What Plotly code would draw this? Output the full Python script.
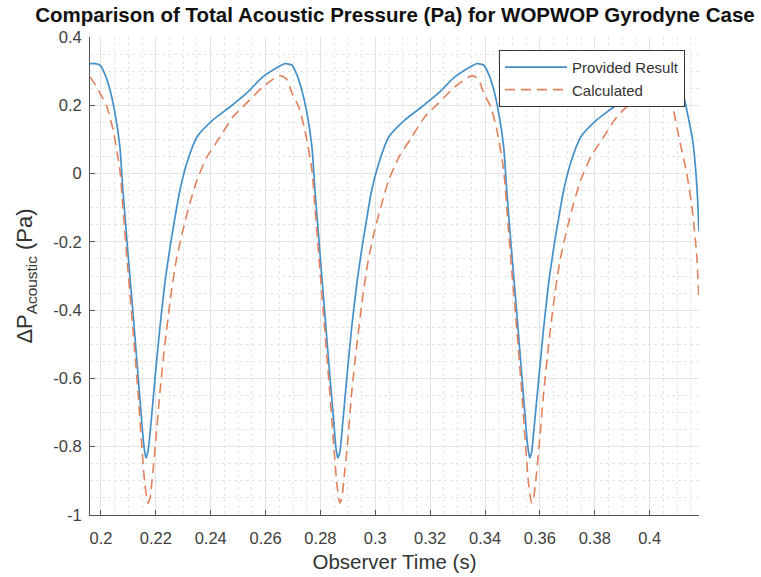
import plotly.graph_objects as go

# Observer time (s) and acoustic pressure (Pa)
t_provided = [0.1960, 0.1978, 0.1996, 0.2015, 0.2033, 0.2051, 0.2069, 0.2080, 0.2098, 0.2117,
              0.2135, 0.2149, 0.2157, 0.2164, 0.2171, 0.2179, 0.2197, 0.2215, 0.2233, 0.2251,
              0.2262, 0.2288, 0.2313, 0.2350, 0.2408, 0.2470, 0.2532, 0.2590, 0.2652, 0.2670,
              0.2689, 0.2696, 0.2714, 0.2732, 0.2751, 0.2769, 0.2780, 0.2798, 0.2816, 0.2834,
              0.2849, 0.2856, 0.2863, 0.2871, 0.2878, 0.2896, 0.2914, 0.2933, 0.2951, 0.2962,
              0.2987, 0.3013, 0.3049, 0.3108, 0.3169, 0.3231, 0.3290, 0.3352, 0.3370,
              0.3388, 0.3395, 0.3414, 0.3432, 0.3450, 0.3468, 0.3479, 0.3497, 0.3516, 0.3534,
              0.3548, 0.3556, 0.3563, 0.3570, 0.3577, 0.3596, 0.3614, 0.3632, 0.3650, 0.3661,
              0.3687, 0.3712, 0.3749, 0.3807, 0.3869, 0.3931, 0.3989, 0.4051, 0.4073,
              0.4091, 0.4109, 0.4128, 0.4142, 0.4157, 0.4168, 0.4175, 0.4180]
p_provided = [0.322, 0.322, 0.318, 0.290, 0.245, 0.177, 0.078, -0.048, -0.230, -0.410,
              -0.590, -0.730, -0.800, -0.833, -0.815, -0.760, -0.600, -0.450, -0.320, -0.220,
              -0.165, -0.048, 0.031, 0.107, 0.157, 0.195, 0.236, 0.283, 0.315, 0.322,
              0.320, 0.318, 0.290, 0.245, 0.177, 0.078, -0.048, -0.230, -0.410, -0.590,
              -0.730, -0.800, -0.833, -0.815, -0.760, -0.600, -0.450, -0.320, -0.220, -0.165,
              -0.048, 0.031, 0.107, 0.157, 0.195, 0.236, 0.283, 0.315, 0.322,
              0.320, 0.318, 0.290, 0.245, 0.177, 0.078, -0.048, -0.230, -0.410, -0.590,
              -0.730, -0.800, -0.833, -0.815, -0.760, -0.600, -0.450, -0.320, -0.220, -0.165,
              -0.048, 0.031, 0.107, 0.157, 0.195, 0.236, 0.283, 0.315, 0.322,
              0.318, 0.280, 0.215, 0.160, 0.098, 0.010, -0.077, -0.170]

t_calculated = [0.1960, 0.1978, 0.1996, 0.2022, 0.2044, 0.2069, 0.2080, 0.2098, 0.2117, 0.2135,
                0.2149, 0.2160, 0.2171, 0.2179, 0.2186, 0.2200, 0.2215, 0.2233, 0.2251, 0.2273,
                0.2299, 0.2324, 0.2350, 0.2386, 0.2434, 0.2481, 0.2532, 0.2590, 0.2641, 0.2659,
                0.2678, 0.2696, 0.2721, 0.2743, 0.2769, 0.2780, 0.2798, 0.2816, 0.2834, 0.2849,
                0.2860, 0.2871, 0.2878, 0.2885, 0.2900, 0.2914, 0.2933, 0.2951, 0.2973, 0.2998,
                0.3024, 0.3049, 0.3086, 0.3133, 0.3180, 0.3231, 0.3290, 0.3341, 0.3359,
                0.3377, 0.3395, 0.3421, 0.3443, 0.3468, 0.3479, 0.3497, 0.3516, 0.3534, 0.3548,
                0.3559, 0.3570, 0.3577, 0.3585, 0.3599, 0.3614, 0.3632, 0.3650, 0.3672, 0.3698,
                0.3723, 0.3749, 0.3785, 0.3832, 0.3880, 0.3931, 0.3989, 0.4040, 0.4058,
                0.4073, 0.4084, 0.4109, 0.4135, 0.4157, 0.4171, 0.4180]
p_calculated = [0.283, 0.262, 0.236, 0.195, 0.128, 0.010, -0.098, -0.280, -0.460, -0.640,
                -0.800, -0.910, -0.965, -0.950, -0.900, -0.780, -0.640, -0.500, -0.380, -0.260,
                -0.165, -0.087, -0.019, 0.048, 0.107, 0.166, 0.207, 0.254, 0.283, 0.286,
                0.275, 0.236, 0.195, 0.128, 0.010, -0.098, -0.280, -0.460, -0.640, -0.800,
                -0.910, -0.965, -0.950, -0.900, -0.780, -0.640, -0.500, -0.380, -0.260, -0.165,
                -0.087, -0.019, 0.048, 0.107, 0.166, 0.207, 0.254, 0.283, 0.286,
                0.275, 0.236, 0.195, 0.128, 0.010, -0.098, -0.280, -0.460, -0.640, -0.800,
                -0.910, -0.965, -0.950, -0.900, -0.780, -0.640, -0.500, -0.380, -0.260, -0.165,
                -0.087, -0.019, 0.048, 0.107, 0.166, 0.207, 0.254, 0.283, 0.286,
                0.270, 0.200, 0.098, 0.002, -0.116, -0.233, -0.370]

x_tick_vals = [0.20, 0.22, 0.24, 0.26, 0.28, 0.30, 0.32, 0.34, 0.36, 0.38, 0.40]
x_tick_text = ["0.2", "0.22", "0.24", "0.26", "0.28", "0.3", "0.32", "0.34", "0.36", "0.38", "0.4"]
y_tick_vals = [0.4, 0.2, 0.0, -0.2, -0.4, -0.6, -0.8, -1.0]
y_tick_text = ["0.4", "0.2", "0", "-0.2", "-0.4", "-0.6", "-0.8", "-1"]

FONT = "Liberation Sans, Arial, sans-serif"
AX = "#555555"

fig = go.Figure()
fig.add_trace(go.Scatter(x=t_provided, y=p_provided, mode="lines", name="Provided Result",
                         line=dict(color="#4690c9", width=1.7, shape="spline", smoothing=0.6)))
fig.add_trace(go.Scatter(x=t_calculated, y=p_calculated, mode="lines", name="Calculated",
                         line=dict(color="#e0825c", width=1.6, dash="10px,6px", shape="spline", smoothing=0.6)))

fig.update_layout(
    width=761, height=577,
    margin=dict(l=90, r=62, t=37, b=62, autoexpand=False),
    paper_bgcolor="white", plot_bgcolor="white",
    font=dict(family=FONT, color="#333333"),
    title=dict(text="<b>Comparison of Total Acoustic Pressure (Pa) for WOPWOP Gyrodyne Case</b>",
               x=0.519, xanchor="center", y=0.975, yanchor="middle",
               font=dict(family=FONT, size=20.5, color="#111111")),
    showlegend=True,
    legend=dict(x=0.977, xanchor="right", y=0.973, yanchor="top",
                bgcolor="white", bordercolor="#333333", borderwidth=1,
                font=dict(family=FONT, size=15, color="#333333"),
                itemwidth=62, tracegroupgap=0),
)
fig.update_xaxes(
    range=[0.196, 0.418], tickvals=x_tick_vals, ticktext=x_tick_text,
    showline=True, linecolor=AX, linewidth=1, mirror=False, automargin=False,
    ticks="inside", ticklen=5, tickcolor=AX, ticklabelstandoff=8,
    tickfont=dict(family=FONT, size=16.5, color="#404040"),
    showgrid=True, gridcolor="#e3e3e3", gridwidth=1, zeroline=False,
    minor=dict(tick0=0.2, dtick=0.005, showgrid=True, gridcolor="#e6e6e6", griddash="dot", ticks=""),
    title=dict(text="Observer Time (s)", font=dict(family=FONT, size=20.5, color="#333333"), standoff=8),
)
fig.update_yaxes(
    range=[-1.0, 0.4], tickvals=y_tick_vals, ticktext=y_tick_text,
    showline=True, linecolor=AX, linewidth=1, mirror=False, automargin=False,
    ticks="inside", ticklen=5, tickcolor=AX, ticklabelstandoff=4,
    tickfont=dict(family=FONT, size=16.5, color="#404040"),
    showgrid=True, gridcolor="#e3e3e3", gridwidth=1, zeroline=False,
    minor=dict(tick0=0.0, dtick=0.05, showgrid=True, gridcolor="#e6e6e6", griddash="dot", ticks=""),
    title=dict(text="ΔP<sub>Acoustic</sub> (Pa)", font=dict(family=FONT, size=22, color="#333333"), standoff=14),
)

fig.write_html("out.html")
